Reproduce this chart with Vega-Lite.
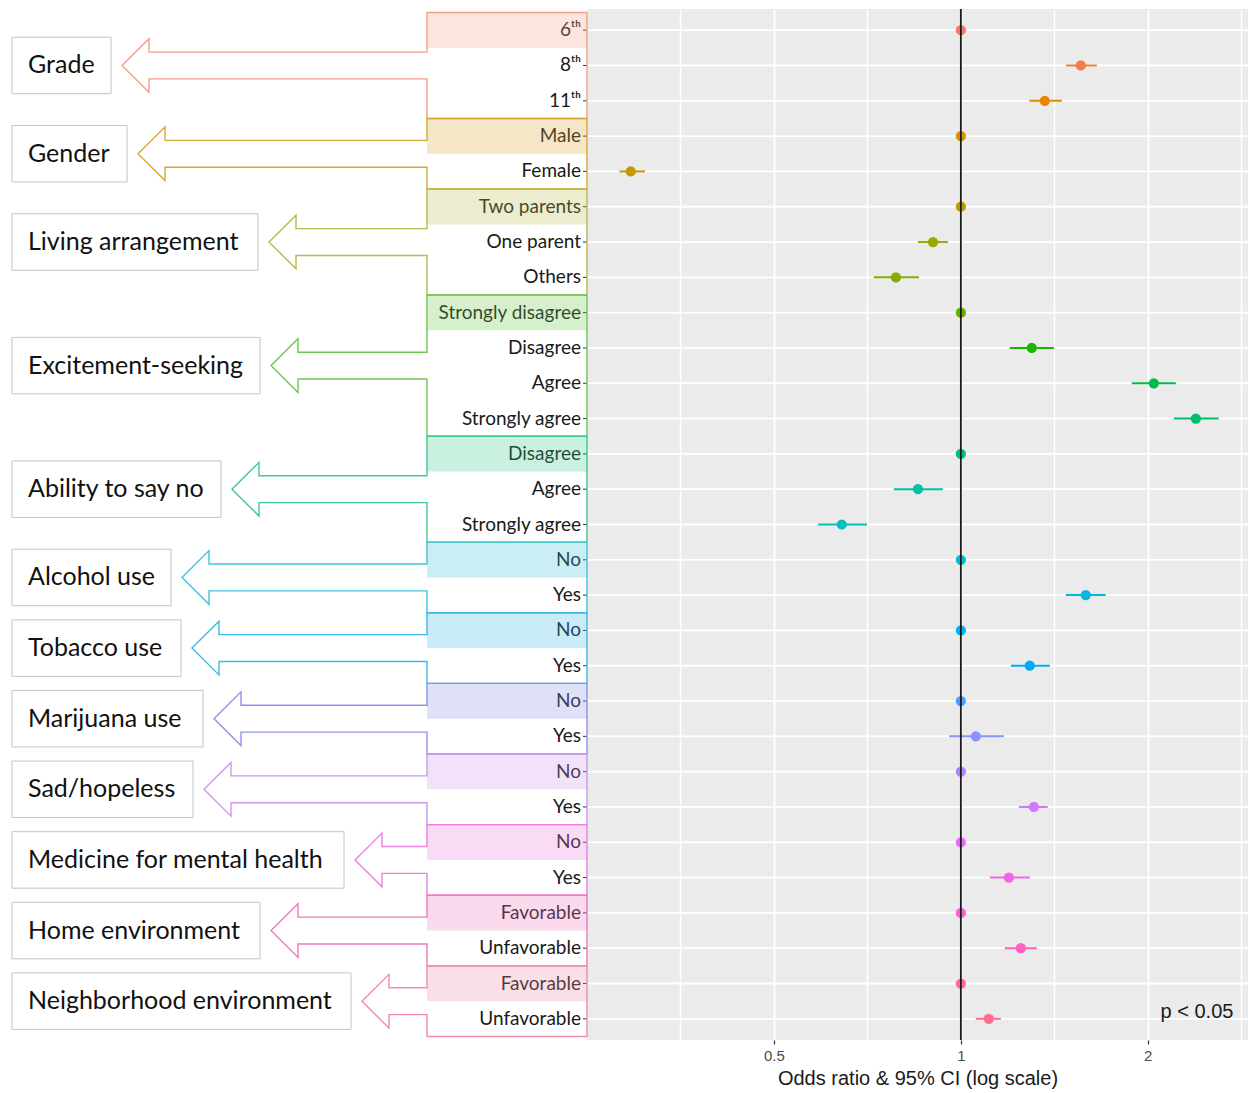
{
  "$schema": "https://vega.github.io/schema/vega-lite/v6.json",
  "autosize": "none",
  "width": 661,
  "height": 1031,
  "padding": {"left": 587, "top": 9, "right": 0, "bottom": 53},
  "background": "#FFFFFF",
  "config": {"view": {"fill": "#EBEBEB", "stroke": null}},
  "datasets": {
    "forest": [
      {"row": 1, "group": "Grade", "label": "6ᵗʰ", "or": 1, "lo": 1, "hi": 1},
      {"row": 2, "group": "Grade", "label": "8ᵗʰ", "or": 1.56, "lo": 1.476, "hi": 1.656},
      {"row": 3, "group": "Grade", "label": "11ᵗʰ", "or": 1.365, "lo": 1.289, "hi": 1.454},
      {"row": 4, "group": "Gender", "label": "Male", "or": 1, "lo": 1, "hi": 1},
      {"row": 5, "group": "Gender", "label": "Female", "or": 0.294, "lo": 0.282, "hi": 0.31},
      {"row": 6, "group": "Living arrangement", "label": "Two parents", "or": 1, "lo": 1, "hi": 1},
      {"row": 7, "group": "Living arrangement", "label": "One parent", "or": 0.902, "lo": 0.853, "hi": 0.953},
      {"row": 8, "group": "Living arrangement", "label": "Others", "or": 0.786, "lo": 0.724, "hi": 0.856},
      {"row": 9, "group": "Excitement-seeking", "label": "Strongly disagree", "or": 1, "lo": 1, "hi": 1},
      {"row": 10, "group": "Excitement-seeking", "label": "Disagree", "or": 1.301, "lo": 1.199, "hi": 1.412},
      {"row": 11, "group": "Excitement-seeking", "label": "Agree", "or": 2.045, "lo": 1.885, "hi": 2.219},
      {"row": 12, "group": "Excitement-seeking", "label": "Strongly agree", "or": 2.39, "lo": 2.202, "hi": 2.602},
      {"row": 13, "group": "Ability to say no", "label": "Disagree", "or": 1, "lo": 1, "hi": 1},
      {"row": 14, "group": "Ability to say no", "label": "Agree", "or": 0.853, "lo": 0.78, "hi": 0.935},
      {"row": 15, "group": "Ability to say no", "label": "Strongly agree", "or": 0.643, "lo": 0.589, "hi": 0.706},
      {"row": 16, "group": "Alcohol use", "label": "No", "or": 1, "lo": 1, "hi": 1},
      {"row": 17, "group": "Alcohol use", "label": "Yes", "or": 1.589, "lo": 1.476, "hi": 1.711},
      {"row": 18, "group": "Tobacco use", "label": "No", "or": 1, "lo": 1, "hi": 1},
      {"row": 19, "group": "Tobacco use", "label": "Yes", "or": 1.291, "lo": 1.204, "hi": 1.391},
      {"row": 20, "group": "Marijuana use", "label": "No", "or": 1, "lo": 1, "hi": 1},
      {"row": 21, "group": "Marijuana use", "label": "Yes", "or": 1.057, "lo": 0.957, "hi": 1.173},
      {"row": 22, "group": "Sad/hopeless", "label": "No", "or": 1, "lo": 1, "hi": 1},
      {"row": 23, "group": "Sad/hopeless", "label": "Yes", "or": 1.311, "lo": 1.24, "hi": 1.38},
      {"row": 24, "group": "Medicine for mental health", "label": "No", "or": 1, "lo": 1, "hi": 1},
      {"row": 25, "group": "Medicine for mental health", "label": "Yes", "or": 1.195, "lo": 1.113, "hi": 1.291},
      {"row": 26, "group": "Home environment", "label": "Favorable", "or": 1, "lo": 1, "hi": 1},
      {"row": 27, "group": "Home environment", "label": "Unfavorable", "or": 1.249, "lo": 1.177, "hi": 1.325},
      {"row": 28, "group": "Neighborhood environment", "label": "Favorable", "or": 1, "lo": 1, "hi": 1},
      {"row": 29, "group": "Neighborhood environment", "label": "Unfavorable", "or": 1.109, "lo": 1.057, "hi": 1.16}
    ],
    "groups": [
      {"group": "Grade", "first": 1, "last": 3, "box_right": 111, "v": [0,1,2,3,4,5,6,7,8,9,10,11]},
      {"group": "Gender", "first": 4, "last": 5, "box_right": 127, "v": [0,1,2,3,4,5,6,7,8,9,10,11]},
      {"group": "Living arrangement", "first": 6, "last": 8, "box_right": 258, "v": [0,1,2,3,4,5,6,7,8,9,10,11]},
      {"group": "Excitement-seeking", "first": 9, "last": 12, "box_right": 260, "v": [0,1,2,3,4,5,6,7,8,9,10,11]},
      {"group": "Ability to say no", "first": 13, "last": 15, "box_right": 221, "v": [0,1,2,3,4,5,6,7,8,9,10,11]},
      {"group": "Alcohol use", "first": 16, "last": 17, "box_right": 171, "v": [0,1,2,3,4,5,6,7,8,9,10,11]},
      {"group": "Tobacco use", "first": 18, "last": 19, "box_right": 181, "v": [0,1,2,3,4,5,6,7,8,9,10,11]},
      {"group": "Marijuana use", "first": 20, "last": 21, "box_right": 203, "v": [0,1,2,3,4,5,6,7,8,9,10,11]},
      {"group": "Sad/hopeless", "first": 22, "last": 23, "box_right": 193, "v": [0,1,2,3,4,5,6,7,8,9,10,11]},
      {"group": "Medicine for mental health", "first": 24, "last": 25, "box_right": 344, "v": [0,1,2,3,4,5,6,7,8,9,10,11]},
      {"group": "Home environment", "first": 26, "last": 27, "box_right": 260, "v": [0,1,2,3,4,5,6,7,8,9,10,11]},
      {"group": "Neighborhood environment", "first": 28, "last": 29, "box_right": 351, "v": [0,1,2,3,4,5,6,7,8,9,10,11]}
    ]
  },
  "resolve": {"scale": {"x": "independent", "color": "independent"}},
  "layer": [
    {
      "data": {"name": "forest"},
      "mark": {"type": "rule", "color": "#FFFFFF", "strokeWidth": 1.8},
      "encoding": {
        "y": {
          "field": "row", "type": "quantitative",
          "scale": {"domain": [0.4, 29.6], "reverse": true, "nice": false, "zero": false},
          "axis": null
        }
      }
    },
    {
      "data": {"name": "forest"},
      "mark": {"type": "rule", "strokeWidth": 2},
      "encoding": {
        "x": {
          "field": "lo", "type": "quantitative",
          "scale": {"type": "log", "domain": [0.25, 2.9], "nice": false, "zero": false},
          "axis": {
            "orient": "bottom",
            "values": [0.5, 1, 2],
            "labelExpr": "datum.value == 0.5 ? '0.5' : (datum.value == 1 ? '1' : (datum.value == 2 ? '2' : ''))",
            "labelOverlap": false,
            "title": "Odds ratio & 95% CI (log scale)",
            "grid": true,
            "gridColor": "#FFFFFF",
            "gridWidth": 1.8,
            "ticks": true,
            "tickColor": "#333333",
            "tickSize": 4,
            "tickWidth": 1.2,
            "domain": false,
            "labelFont": "Liberation Sans",
            "labelFontSize": 15,
            "labelColor": "#4D4D4D",
            "labelPadding": 4,
            "titleFont": "Liberation Sans",
            "titleFontSize": 20,
            "titleFontWeight": "normal",
            "titleColor": "#1A1A1A",
            "titlePadding": 5
          }
        },
        "x2": {"field": "hi"},
        "y": {"field": "row", "type": "quantitative", "axis": null},
        "color": {
          "field": "row", "type": "ordinal",
          "scale": {"range": ["#F8766D","#EF7F48","#E48800","#D69100","#C69800","#B4A000","#9EA700","#83AD00","#60B200","#1AB700","#00BB48","#00BE6B","#00C088","#00C1A2","#00C0B9","#00BECF","#00B9E1","#00B3F1","#00ABFD","#46A0FF","#8794FF","#B086FF","#CE79FF","#E46DF6","#F365E6","#FC61D4","#FF62BE","#FF66A6","#FE6E8B"]},
          "legend": null
        }
      }
    },
    {
      "data": {"name": "forest"},
      "mark": {"type": "circle", "size": 105, "opacity": 1},
      "encoding": {
        "x": {
          "field": "or", "type": "quantitative",
          "scale": {"type": "log", "domain": [0.25, 2.9], "nice": false, "zero": false},
          "axis": {
            "orient": "top",
            "values": [0.35355, 0.70711, 1.41421, 2.82843],
            "labels": false,
            "ticks": false,
            "domain": false,
            "title": null,
            "grid": true,
            "gridColor": "#FFFFFF",
            "gridWidth": 1.5
          }
        },
        "y": {"field": "row", "type": "quantitative", "axis": null},
        "color": {
          "field": "row", "type": "ordinal",
          "scale": {"range": ["#F8766D","#EF7F48","#E48800","#D69100","#C69800","#B4A000","#9EA700","#83AD00","#60B200","#1AB700","#00BB48","#00BE6B","#00C088","#00C1A2","#00C0B9","#00BECF","#00B9E1","#00B3F1","#00ABFD","#46A0FF","#8794FF","#B086FF","#CE79FF","#E46DF6","#F365E6","#FC61D4","#FF62BE","#FF66A6","#FE6E8B"]},
          "legend": null
        }
      }
    },
    {
      "data": {"values": [{"ref": 1}]},
      "mark": {"type": "rule", "color": "#1A1A1A", "strokeWidth": 1.8},
      "encoding": {
        "x": {"field": "ref", "type": "quantitative", "scale": {"type": "log", "domain": [0.25, 2.9], "nice": false, "zero": false}, "axis": null}
      }
    },
    {
      "data": {"values": [{"note": "p < 0.05", "or": 2.4, "row": 28.8}]},
      "mark": {"type": "text", "align": "center", "baseline": "middle", "font": "Liberation Sans", "fontSize": 20, "color": "#1A1A1A"},
      "encoding": {
        "x": {"field": "or", "type": "quantitative", "scale": {"type": "log", "domain": [0.25, 2.9], "nice": false, "zero": false}, "axis": null},
        "y": {"field": "row", "type": "quantitative", "axis": null},
        "text": {"field": "note"}
      }
    },
    {
      "data": {"name": "groups"},
      "transform": [
        {"calculate": "(datum.first + datum.last) / 2 - 0.8", "as": "box_top"},
        {"calculate": "(datum.first + datum.last) / 2 + 0.8", "as": "box_bottom"},
        {"calculate": "12", "as": "box_left"}
      ],
      "mark": {"type": "rect", "fill": "#FFFFFF", "stroke": "#C4C4C4", "strokeWidth": 1},
      "encoding": {
        "x": {"field": "box_left", "type": "quantitative", "scale": {"domain": [587, 1248], "nice": false, "zero": false}, "axis": null},
        "x2": {"field": "box_right"},
        "y": {"field": "box_top", "type": "quantitative", "axis": null},
        "y2": {"field": "box_bottom"}
      }
    },
    {
      "data": {"name": "groups"},
      "transform": [
        {"calculate": "(datum.first + datum.last) / 2", "as": "mid"},
        {"calculate": "28", "as": "text_left"}
      ],
      "mark": {"type": "text", "align": "left", "baseline": "middle", "font": "Lato", "fontSize": 25, "color": "#111111"},
      "encoding": {
        "x": {"field": "text_left", "type": "quantitative", "scale": {"domain": [587, 1248], "nice": false, "zero": false}, "axis": null},
        "y": {"field": "mid", "type": "quantitative", "axis": null},
        "text": {"field": "group"}
      }
    },
    {
      "data": {"name": "forest"},
      "transform": [{"calculate": "581", "as": "label_right"}],
      "mark": {"type": "text", "align": "right", "baseline": "middle", "font": "Lato", "fontSize": 19, "color": "#1A1A1A"},
      "encoding": {
        "x": {"field": "label_right", "type": "quantitative", "scale": {"domain": [587, 1248], "nice": false, "zero": false}, "axis": null},
        "y": {"field": "row", "type": "quantitative", "axis": null},
        "text": {"field": "label"}
      }
    },
    {
      "data": {"name": "forest"},
      "transform": [
        {"calculate": "583", "as": "tick_start"},
        {"calculate": "587", "as": "tick_end"}
      ],
      "mark": {"type": "rule", "color": "#333333", "strokeWidth": 1},
      "encoding": {
        "x": {"field": "tick_start", "type": "quantitative", "scale": {"domain": [587, 1248], "nice": false, "zero": false}, "axis": null},
        "x2": {"field": "tick_end"},
        "y": {"field": "row", "type": "quantitative", "axis": null}
      }
    },
    {
      "data": {"name": "groups"},
      "transform": [
        {"calculate": "datum.first - 0.5", "as": "band_top"},
        {"calculate": "datum.first + 0.5", "as": "band_bottom"},
        {"calculate": "427", "as": "band_left"},
        {"calculate": "587", "as": "band_right"}
      ],
      "mark": {"type": "rect", "opacity": 0.28},
      "encoding": {
        "x": {"field": "band_left", "type": "quantitative", "scale": {"domain": [587, 1248], "nice": false, "zero": false}, "axis": null},
        "x2": {"field": "band_right"},
        "y": {"field": "band_top", "type": "quantitative", "axis": null},
        "y2": {"field": "band_bottom"},
        "color": {
          "field": "group", "type": "nominal",
          "scale": {
            "domain": ["Grade","Gender","Living arrangement","Excitement-seeking","Ability to say no","Alcohol use","Tobacco use","Marijuana use","Sad/hopeless","Medicine for mental health","Home environment","Neighborhood environment"],
            "range": ["#F2A088","#D9A735","#B9B94F","#6CC850","#3FC98C","#3FC3D8","#40B8E6","#8C93EC","#CE98EE","#EC7FE0","#F07ABF","#F08DA4"]
          },
          "legend": null
        }
      }
    },
    {
      "data": {"name": "groups"},
      "transform": [
        {"flatten": ["v"]},
        {"calculate": "(datum.first + datum.last) / 2", "as": "mid"},
        {"calculate": "datum.box_right + 11", "as": "tip"},
        {"calculate": "datum.v == 0 || datum.v >= 10 ? 587 : (datum.v <= 2 || datum.v >= 8 ? 427 : (datum.v == 5 ? datum.tip : datum.tip + 27))", "as": "px"},
        {"calculate": "[datum.first - 0.5, datum.first - 0.5, datum.mid - 0.38, datum.mid - 0.38, datum.mid - 0.76, datum.mid, datum.mid + 0.76, datum.mid + 0.38, datum.mid + 0.38, datum.last + 0.5, datum.last + 0.5, datum.first - 0.5][datum.v]", "as": "py"}
      ],
      "mark": {"type": "line", "strokeWidth": 1.4},
      "encoding": {
        "x": {"field": "px", "type": "quantitative", "scale": {"domain": [587, 1248], "nice": false, "zero": false}, "axis": null},
        "y": {"field": "py", "type": "quantitative", "axis": null},
        "order": {"field": "v", "type": "quantitative"},
        "color": {
          "field": "group", "type": "nominal",
          "scale": {
            "domain": ["Grade","Gender","Living arrangement","Excitement-seeking","Ability to say no","Alcohol use","Tobacco use","Marijuana use","Sad/hopeless","Medicine for mental health","Home environment","Neighborhood environment"],
            "range": ["#F2A088","#D9A735","#B9B94F","#6CC850","#3FC98C","#3FC3D8","#40B8E6","#8C93EC","#CE98EE","#EC7FE0","#F07ABF","#F08DA4"]
          },
          "legend": null
        }
      }
    }
  ]
}
